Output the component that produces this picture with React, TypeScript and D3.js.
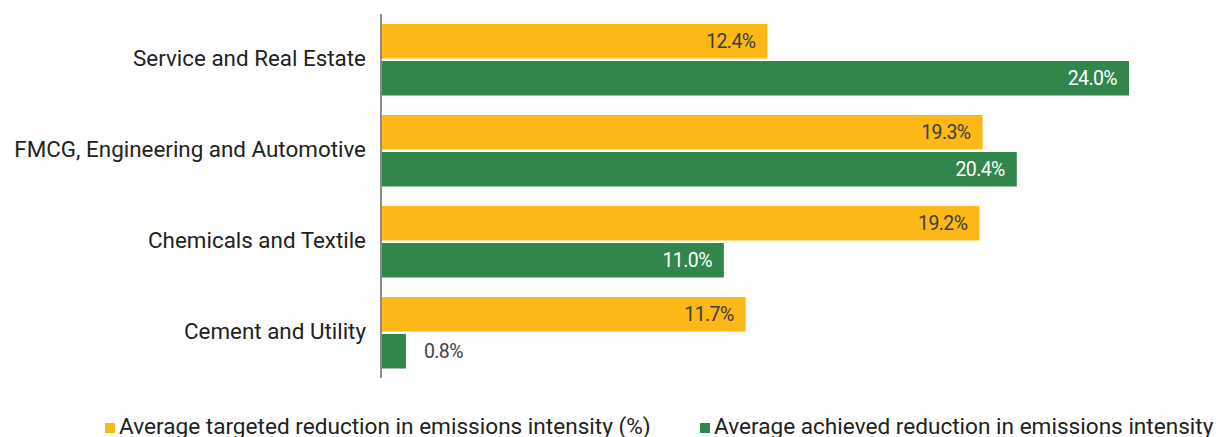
import React from "react";
import * as d3 from "d3";

const categories = [
  "Service and Real Estate",
  "FMCG, Engineering and Automotive",
  "Chemicals and Textile",
  "Cement and Utility",
];
const targeted = [12.4, 19.3, 19.2, 11.7];
const achieved = [24.0, 20.4, 11.0, 0.8];
const seriesNames = [
  "Average targeted reduction in emissions intensity (%)",
  "Average achieved reduction in emissions intensity",
];
const colors = ["#FBB817", "#31874B"];

const W = 1216;
const H = 437;
const FONT = "Roboto, 'Noto Sans', sans-serif";

export default function App() {
  const x = d3.scaleLinear().domain([0, 24]).range([381, 1129]);
  const y = d3.scaleBand<string>().domain(categories).range([14, 378]);
  const barH = 34.5;
  const pad = 10;
  const gap = 2.5;

  const series = [targeted, achieved];

  return (
    <svg
      width={W}
      height={H}
      style={{ position: "absolute", left: 0, top: 0, background: "#fff" }}
      fontFamily={FONT}
    >
      {categories.map((c, i) => {
        const y0 = y(c)!;
        return (
          <g key={c}>
            <text
              x={366}
              y={y0 + y.bandwidth() / 2 - 1.5}
              textAnchor="end"
              dominantBaseline="central"
              fontSize={22.4}
              fill="#222"
            >
              {c}
            </text>
            {series.map((vals, s) => {
              const v = vals[i];
              const by = y0 + pad + s * (barH + gap);
              const w = x(v) - x(0);
              const inside = w > 60;
              return (
                <g key={s}>
                  <rect
                    x={x(0)}
                    y={by}
                    width={w}
                    height={barH}
                    fill={colors[s]}
                  />
                  <text
                    x={inside ? x(v) - 12 : x(v) + 18}
                    y={by + barH / 2}
                    textAnchor={inside ? "end" : "start"}
                    dominantBaseline="central"
                    fontSize={19.5}
                    letterSpacing={-0.6}
                    fill={inside ? (s === 0 ? "#3d3d3d" : "#fff") : "#444"}
                  >
                    {v.toFixed(1)}%
                  </text>
                </g>
              );
            })}
          </g>
        );
      })}
      <line x1={381} x2={381} y1={14} y2={378} stroke="#8c8c8c" strokeWidth={2} />
      {seriesNames.map((name, s) => {
        const lx = s === 0 ? 105 : 700;
        return (
          <g key={name}>
            <rect x={lx} y={423} width={10} height={10} fill={colors[s]} />
            <text x={lx + 14} y={434} fontSize={22.6} fill="#222">
              {name}
            </text>
          </g>
        );
      })}
    </svg>
  );
}
